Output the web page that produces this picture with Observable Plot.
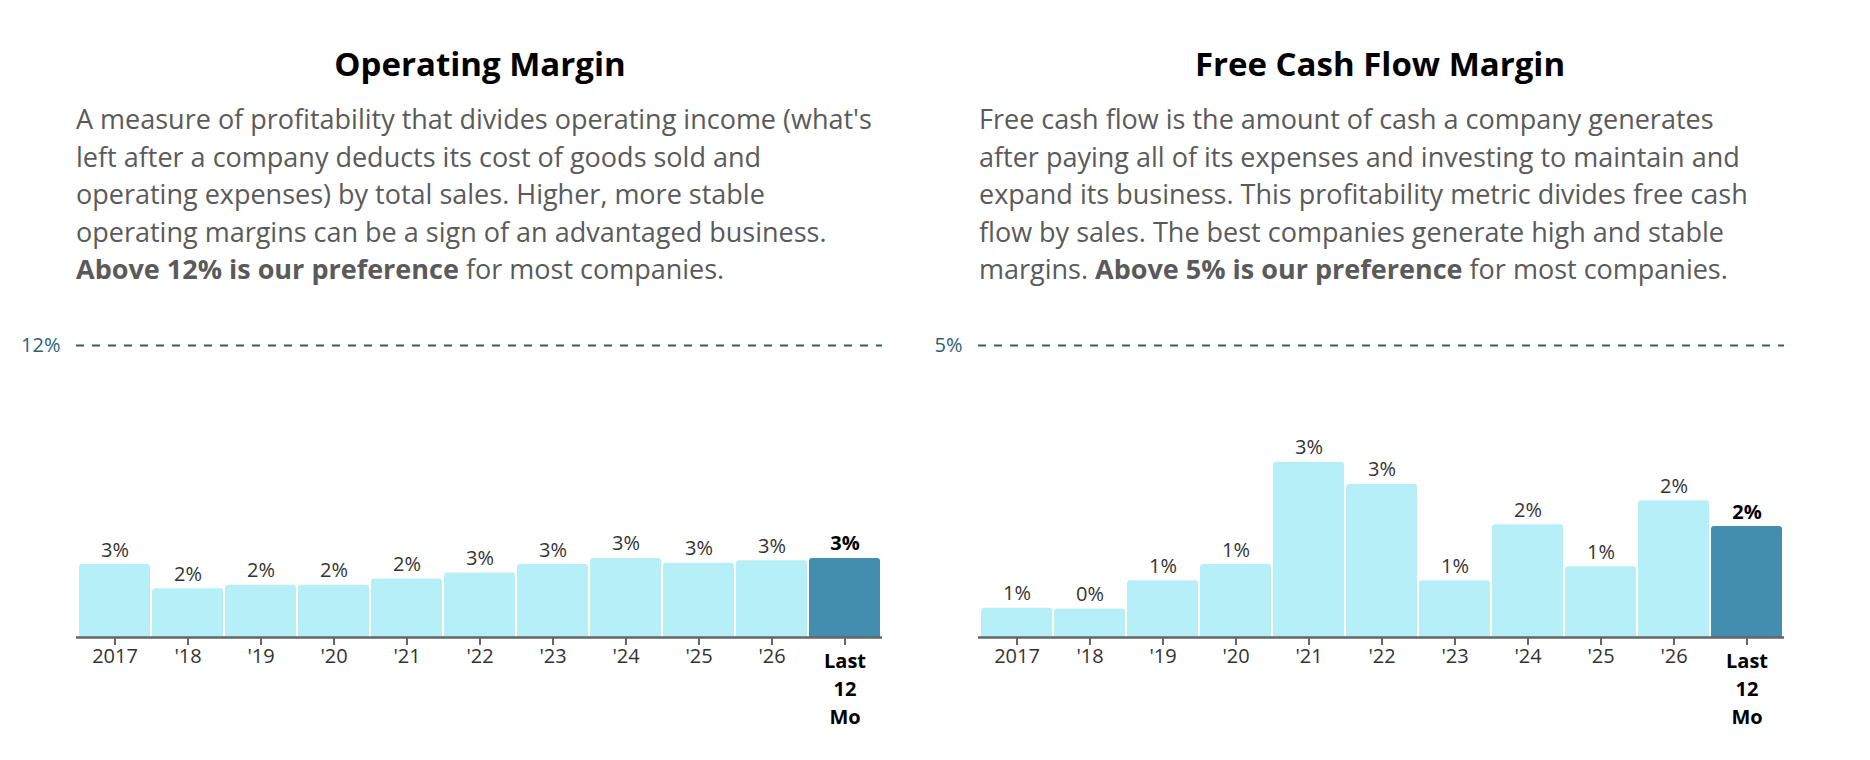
<!DOCTYPE html>
<html>
<head>
<meta charset="utf-8">
<script src="https://cdn.jsdelivr.net/npm/d3@7"></script>
<script src="https://cdn.jsdelivr.net/npm/@observablehq/plot@0.6"></script>
<style>
  html, body { margin: 0; padding: 0; background: #fff; }
  body { width: 1870px; height: 760px; position: relative; overflow: hidden; font-family: "Open Sans", sans-serif; }
  .col { position: absolute; top: 0; width: 812px; }
  .title { position: absolute; top: 44px; left: -2px; width: 812px; text-align: center; font-size: 33px; line-height: 40px; font-weight: 700; color: #000; white-space: nowrap; }
  .desc { position: absolute; top: 100px; left: 0; font-size: 27px; line-height: 37.5px; color: #5a5a5a; white-space: nowrap; }
  .desc b { font-weight: 700; }
  .chart { position: absolute; top: 300px; }
</style>
</head>
<body>
<div class="col" style="left:76px">
  <div class="title">Operating Margin</div>
  <div class="desc">A measure of profitability that divides operating income (what's<br>left after a company deducts its cost of goods sold and<br>operating expenses) by total sales. Higher, more stable<br>operating margins can be a sign of an advantaged business.<br><b>Above 12% is our preference</b> for most companies.</div>
</div>
<div class="col" style="left:979px">
  <div class="title" style="left:-5px">Free Cash Flow Margin</div>
  <div class="desc">Free cash flow is the amount of cash a company generates<br>after paying all of its expenses and investing to maintain and<br>expand its business. This profitability metric divides free cash<br>flow by sales. The best companies generate high and stable<br>margins. <b>Above 5% is our preference</b> for most companies.</div>
</div>
<div id="chart1" class="chart" style="left:0px"></div>
<div id="chart2" class="chart" style="left:902px"></div>
<script>
// ---- data ----
const periods = ["2017", "2018", "2019", "2020", "2021", "2022", "2023", "2024", "2025", "2026", "LTM"];
const tickLabels = ["2017", "'18", "'19", "'20", "'21", "'22", "'23", "'24", "'25", "'26", "Last\n12\nMo"];
const operatingMargin = [3.0, 2.0, 2.15, 2.15, 2.4, 2.65, 3.0, 3.25, 3.05, 3.15, 3.25];
const fcfMargin = [0.5, 0.49, 0.97, 1.25, 3.0, 2.62, 0.97, 1.93, 1.21, 2.34, 1.90];
const operatingTarget = 12;
const fcfTarget = 5;

const lightColor = "#b7eff8";
const darkColor = "#438eaf";
const targetColor = "#2f5f76";

function versionAtLeast(v, maj, min, patch) {
  const p = String(v || "0.0.0").split(".").map(Number);
  if (p[0] !== maj) return p[0] > maj;
  if (p[1] !== min) return p[1] > min;
  return (p[2] || 0) >= patch;
}
const cornerOpts = versionAtLeast(Plot.version, 0, 6, 12) ? {rx1y1: 3, rx2y1: 3} : {};

function makeChart(values, target) {
  const data = periods.map((p, i) => ({period: p, value: values[i], label: tickLabels[i], last: i === periods.length - 1}));
  const labelOf = new Map(data.map(d => [d.period, d.label]));
  const lastKey = periods[periods.length - 1];
  const W = 882, H = 440;
  return Plot.plot({
    width: W,
    height: H,
    marginLeft: 76,
    marginRight: 0,
    marginTop: 45,
    marginBottom: 103,
    style: {fontFamily: "Open Sans", fontSize: "20px", background: "transparent", overflow: "visible"},
    x: {domain: periods, padding: 0.03, axis: null},
    y: {domain: [0, target], axis: null},
    marks: [
      Plot.barY(data, {x: "period", y: "value", fill: d => d.last ? darkColor : lightColor, ...cornerOpts}),
      Plot.ruleY([0], {stroke: "#666", strokeWidth: 2.5}),
      Plot.ruleY([target], {stroke: targetColor, strokeWidth: 2, strokeDasharray: "8,8"}),
      Plot.axisY({ticks: [target], tickSize: 0, tickPadding: 16, tickFormat: d => d + "%", fontSize: 20, fill: targetColor, anchor: "left", label: null}),
      Plot.axisX({ticks: periods.slice(0, -1), tickSize: 8, tickPadding: 3, stroke: "#666", strokeWidth: 2, tickFormat: k => labelOf.get(k), fontSize: 20, fill: "#333", anchor: "bottom", label: null}),
      Plot.axisX({ticks: [lastKey], tickSize: 8, tickPadding: 3, stroke: "#666", strokeWidth: 2, tickFormat: k => labelOf.get(k), fontSize: 20, fontWeight: "bold", fill: "#000", lineHeight: 1.39, anchor: "bottom", label: null}),
      Plot.text(data.filter(d => !d.last), {x: "period", y: "value", text: d => Math.round(d.value) + "%", dy: -8, lineAnchor: "bottom", fontSize: 20, fill: "#333"}),
      Plot.text(data.filter(d => d.last), {x: "period", y: "value", text: d => Math.round(d.value) + "%", dy: -8, lineAnchor: "bottom", fontSize: 20, fontWeight: "bold", fill: "#000"})
    ]
  });
}

document.getElementById("chart1").append(makeChart(operatingMargin, operatingTarget));
document.getElementById("chart2").append(makeChart(fcfMargin, fcfTarget));
</script>
</body>
</html>
